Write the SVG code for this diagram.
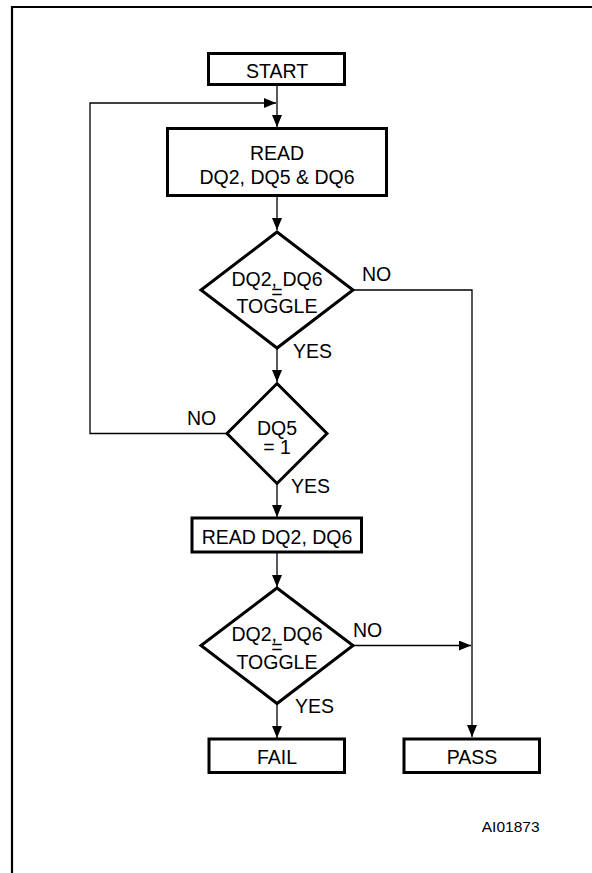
<svg xmlns="http://www.w3.org/2000/svg" width="592" height="873" viewBox="0 0 592 873">
<style>
.box{fill:#fff;stroke:#000;stroke-width:3}
.t{font-family:"Liberation Sans",Arial,sans-serif;font-size:19.5px;fill:#000;text-anchor:middle}
.l{font-family:"Liberation Sans",Arial,sans-serif;font-size:19.5px;fill:#000}
.c{fill:none;stroke:#000;stroke-width:1.3}
</style>
<defs>
<marker id="ah" markerUnits="userSpaceOnUse" markerWidth="12" markerHeight="10" refX="12" refY="5" orient="auto">
<path d="M0,0 L12,5 L0,10 Z" fill="#000"/>
</marker>
</defs>
<rect width="592" height="873" fill="#fff"/>
<g id="frame">
<line x1="12" y1="7" x2="592" y2="7" stroke="#000" stroke-width="2.2"/>
<line x1="12" y1="6" x2="12" y2="873" stroke="#000" stroke-width="2.2"/>
</g>
<g id="connectors">
<line class="c" x1="277" y1="85" x2="277" y2="127" marker-end="url(#ah)"/>
<polyline class="c" points="226,433.5 90,433.5 90,103 276,103" marker-end="url(#ah)"/>
<line class="c" x1="277" y1="197" x2="277" y2="230" marker-end="url(#ah)"/>
<polyline class="c" points="353,290 472,290 472,737" marker-end="url(#ah)"/>
<line class="c" x1="277" y1="348" x2="277" y2="382" marker-end="url(#ah)"/>
<line class="c" x1="277" y1="484" x2="277" y2="517" marker-end="url(#ah)"/>
<line class="c" x1="277" y1="553" x2="277" y2="587" marker-end="url(#ah)"/>
<line class="c" x1="353" y1="645.5" x2="471" y2="645.5" marker-end="url(#ah)"/>
<line class="c" x1="277" y1="704" x2="277" y2="738" marker-end="url(#ah)"/>
</g>
<g id="start">
<rect class="box" x="208.5" y="53.5" width="136" height="31"/>
<text class="t" x="277" y="77.5">START</text>
</g>
<g id="read1">
<rect class="box" x="167.5" y="128.5" width="219" height="67"/>
<text class="t" x="277" y="160">READ</text>
<text class="t" x="277" y="183.5">DQ2, DQ5 &amp; DQ6</text>
</g>
<g id="toggle1">
<polygon class="box" points="277,232 353,290 277,348 201,290"/>
<text class="t" x="277" y="285.5">DQ2, DQ6</text>
<text class="t" x="277" y="298.5">=</text>
<text class="t" x="277" y="313">TOGGLE</text>
<text class="l" x="362" y="281">NO</text>
<text class="l" x="293" y="357.5">YES</text>
</g>
<g id="dq5">
<polygon class="box" points="277,383.5 327,433.5 277,483.5 227,433.5"/>
<text class="t" x="277" y="435">DQ5</text>
<text class="t" x="277" y="454">= 1</text>
<text class="l" x="187" y="425">NO</text>
<text class="l" x="291" y="493">YES</text>
</g>
<g id="read2">
<rect class="box" x="192" y="518" width="169.5" height="34"/>
<text class="t" x="277" y="544">READ DQ2, DQ6</text>
</g>
<g id="toggle2">
<polygon class="box" points="277,588 353,645.5 277,703.5 201,645.5"/>
<text class="t" x="277" y="641">DQ2, DQ6</text>
<text class="t" x="277" y="654">=</text>
<text class="t" x="277" y="669">TOGGLE</text>
<text class="l" x="353" y="637">NO</text>
<text class="l" x="295" y="712.5">YES</text>
</g>
<g id="fail">
<rect class="box" x="209" y="739" width="135.5" height="33.5"/>
<text class="t" x="277" y="764">FAIL</text>
</g>
<g id="pass">
<rect class="box" x="404" y="739" width="135.5" height="33.5"/>
<text class="t" x="472" y="764">PASS</text>
</g>
<text class="l" x="539.5" y="831.5" style="font-size:15.5px;text-anchor:end">AI01873</text>
</svg>
